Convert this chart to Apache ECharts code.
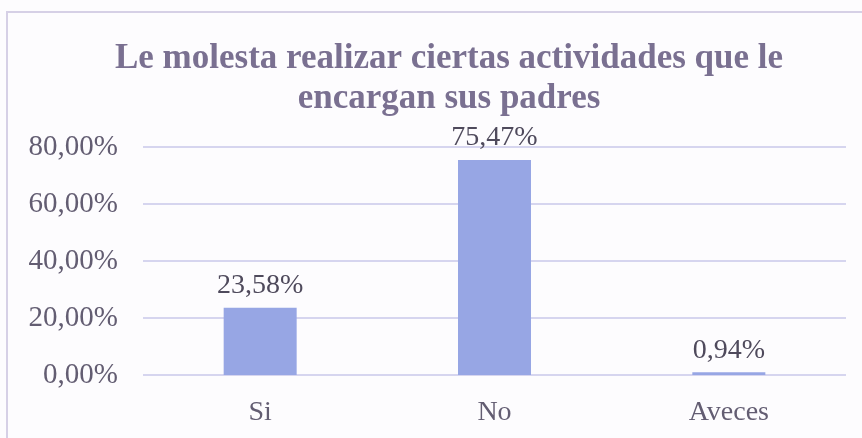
<!DOCTYPE html>
<html>
<head>
<meta charset="utf-8">
<script src="https://cdn.jsdelivr.net/npm/echarts@6/dist/echarts.min.js"></script>
<style>
  html, body { margin: 0; padding: 0; background: #fdfcfe; }
  #chart { width: 862px; height: 438px; }
</style>
</head>
<body>
<div id="chart"></div>
<script>
// categories and values (percent)
const categories = ['Si', 'No', 'Aveces'];
const values = [23.58, 75.47, 0.94];
const yTicks = [0, 20, 40, 60, 80];

const chart = echarts.init(document.getElementById('chart'));

const fmt = v => v.toFixed(2).replace('.', ',') + '%';

chart.setOption({
  backgroundColor: '#fdfcfe',
  textStyle: { fontFamily: 'Liberation Serif' },
  title: {
    text: 'Le molesta realizar ciertas actividades que le\nencargan sus padres',
    left: 444,
    top: 34,
    textAlign: 'center',
    textStyle: {
      fontFamily: 'Liberation Serif',
      fontWeight: 'bold',
      fontSize: 35,
      lineHeight: 40,
      color: '#7a7091'
    }
  },
  graphic: [{
    type: 'rect',
    shape: { x: 7, y: 12, width: 880, height: 440 },
    style: { fill: 'none', stroke: '#d6d0e6', lineWidth: 2 }
  }],
  grid: { left: 143, right: 16, top: 147, bottom: 63 },
  xAxis: {
    type: 'category',
    data: categories,
    axisLine: { show: false },
    axisTick: { show: false },
    axisLabel: { fontSize: 28, color: '#635d72', margin: 24 }
  },
  yAxis: {
    type: 'value',
    min: 0,
    max: 80,
    interval: 20,
    axisLine: { show: false },
    axisTick: { show: false },
    splitLine: { lineStyle: { color: '#c9c8ea', width: 1.5 } },
    axisLabel: {
      fontSize: 29,
      color: '#635d72',
      margin: 25,
      formatter: v => yTicks.includes(v) ? fmt(v) : ''
    }
  },
  series: [{
    type: 'bar',
    data: values,
    barWidth: 73,
    itemStyle: { color: '#97a6e4' },
    label: {
      show: true,
      position: 'top',
      distance: 8,
      fontSize: 28,
      color: '#4f4a5c',
      formatter: p => fmt(p.value)
    }
  }]
});
</script>
</body>
</html>
